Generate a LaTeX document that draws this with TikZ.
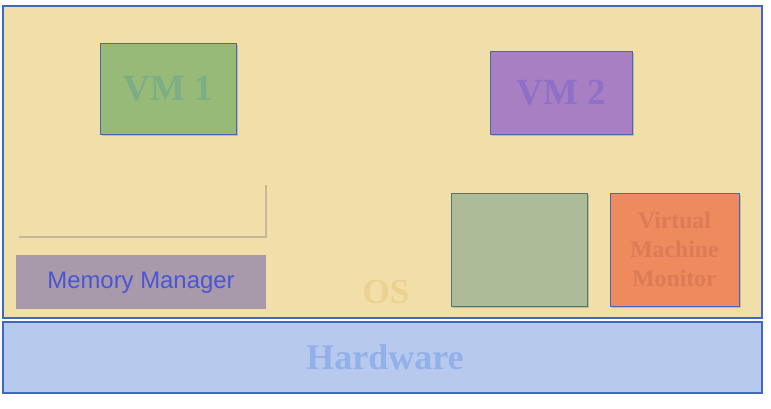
\documentclass[tikz,border=0pt]{standalone}
\usepackage{fontspec}
\setmainfont{Liberation Serif}
\setsansfont{Liberation Sans}
\usetikzlibrary{positioning, shadows, backgrounds}

\definecolor{osFill}{HTML}{F1DEA8}
\definecolor{osText}{HTML}{EBD38F}
\definecolor{hwFill}{HTML}{B7CAEE}
\definecolor{hwText}{HTML}{93B0EA}
\definecolor{vmOneFill}{HTML}{97BA79}
\definecolor{vmOneText}{HTML}{7BAE86}
\definecolor{vmTwoFill}{HTML}{A97FC3}
\definecolor{vmTwoText}{HTML}{8E70C8}
\definecolor{memFill}{HTML}{A99AAB}
\definecolor{memText}{HTML}{4A55D3}
\definecolor{greyFill}{HTML}{ADBB99}
\definecolor{vmmFill}{HTML}{EE8A5E}
\definecolor{vmmText}{HTML}{DE7B57}
\definecolor{edgeBlue}{HTML}{4068BE}
\definecolor{edgeTeal}{HTML}{4E7A6E}

\tikzset{
	layer/.style={draw=edgeBlue, line width=0.8pt, inner sep=0pt, outer sep=0pt},
	block/.style={inner sep=0pt, outer sep=0pt, drop shadow={opacity=0.4, shadow xshift=1.2pt, shadow yshift=-1.2pt}},
	bigLabel/.style={font=\fontsize{21}{24}\selectfont\bfseries}
}

\begin{document}
\begin{tikzpicture}[x=0.02cm, y=-0.02cm]
	\useasboundingbox[fill=white] (0,0) rectangle (771,409);
	
	\node[layer, fill=osFill, minimum width=15.18cm, minimum height=6.24cm] (os) at (382.5,162) {};
	\node[layer, fill=hwFill, minimum width=15.18cm, minimum height=1.42cm, text=hwText, font=\fontsize{20.5}{24}\selectfont\bfseries] (hardware) at (382.5,357.5) {\hspace{0.1cm}Hardware};
	\node[text=osText, font=\fontsize{20}{24}\selectfont\bfseries] (osLabel) at (386,292) {OS};
	
	\node[block, draw=edgeBlue, fill=vmOneFill, minimum width=2.72cm, minimum height=1.82cm, text=vmOneText, bigLabel] (vmOne) at (168,88.5) {VM 1};
	\node[block, draw=edgeBlue, fill=vmTwoFill, minimum width=2.84cm, minimum height=1.66cm, text=vmTwoText, bigLabel] (vmTwo) at (561,92.5) {VM 2};
	
	\node[block, fill=osFill, minimum width=4.96cm, minimum height=1.06cm] (emptyBox) at (141,209.5) {};
	\node[inner sep=0pt, fill=memFill, minimum width=5cm, minimum height=1.08cm, text=memText, font=\sffamily\fontsize{13.6}{16}\selectfont, below=0.38cm of emptyBox] (memManager) {Memory Manager};
	
	\node[block, draw=edgeTeal, fill=greyFill, minimum width=2.72cm, minimum height=2.26cm] (greyBox) at (519,249.5) {};
	\node[block, draw=edgeBlue, fill=vmmFill, minimum width=2.58cm, minimum height=2.26cm, text=vmmText, align=center, font=\fontsize{13.5}{16.5}\selectfont\bfseries, right=0.46cm of greyBox] (vmm) {Virtual\\Machine\\Monitor};
	
\end{tikzpicture}
\end{document}
